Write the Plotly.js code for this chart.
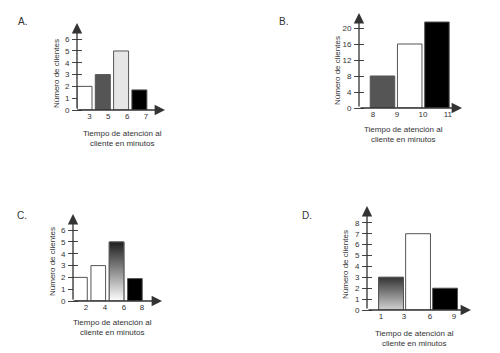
<!DOCTYPE html>
<html>
<head>
<meta charset="utf-8">
<script src="https://cdn.plot.ly/plotly-3.0.1.min.js"></script>
<style>html,body{margin:0;padding:0;background:#fff;}#chart{width:500px;height:353px;}</style>
</head>
<body>
<div id="chart"></div>
<script>
// ---- data ----
const labelsPanel = ['A.', 'B.', 'C.', 'D.'];
const catsA = ['3', '5', '6', '7'];
const valsA = [2, 3, 5, 1.7];
const catsB = ['8', '9', '10', '11'];
const valsB = [8, 16, 21.5];
const catsC = ['2', '4', '6', '8'];
const valsC = [2, 3, 5, 1.9];
const catsD = ['1', '3', '6', '9'];
const valsD = [3, 7, 2];
const yticksA = [0, 1, 2, 3, 4, 5, 6];
const yticksB = [0, 4, 8, 12, 16, 20];
const yticksC = [0, 1, 2, 3, 4, 5, 6];
const yticksD = [0, 1, 2, 3, 4, 5, 6, 7, 8];
const colorsA = ['#ffffff', '#555555', '#e6e6e6', '#000000'];
const colorsB = ['#555555', '#ffffff', '#000000'];
const colorsC = ['#ffffff', '#ffffff', 'gradient', '#000000'];
const colorsD = ['gradient', '#ffffff', '#000000'];
const yTitle = 'Número de clientes';
const xTitle = 'Tiempo de atención al<br>cliente en minutos';

// ---- layout geometry (pixels) ----
const W = 500, H = 353;
const panels = [
  {cats: catsA, vals: valsA, colors: colorsA, yt: yticksA, px: [77, 165], py: [23, 110], xr: [-0.41, 4.4], yr: [0, 7.37], bw: 0.82, tv: [0.27, 1.3, 2.33, 3.36], lab: [22, 22], ytl: [56, 74], xtl: [122, 138], grad: ['#ffffff', '#222222']},
  {cats: catsB, vals: valsB, colors: colorsB, yt: yticksB, px: [359, 462], py: [13, 108], xr: [-0.862, 2.92], yr: [0, 23.75], bw: 0.9, tv: [-0.35, 0.53, 1.49, 2.4], lab: [283, 22], ytl: [337, 71], xtl: [403, 134], grad: ['#ffffff', '#222222']},
  {cats: catsC, vals: valsC, colors: colorsC, yt: yticksC, px: [73, 162], py: [214, 301], xr: [-0.38, 4.48], yr: [0, 7.37], bw: 0.8, tv: [0.33, 1.37, 2.4, 3.39], lab: [22, 215], ytl: [52, 262], xtl: [112, 327], grad: ['#ffffff', '#1e1e1e']},
  {cats: catsD, vals: valsD, colors: colorsD, yt: yticksD, px: [367, 471], py: [206, 310], xr: [-0.89, 2.96], yr: [0, 9.54], bw: 0.92, tv: [-0.37, 0.48, 1.44, 2.33], lab: [307, 215], ytl: [345, 265], xtl: [414, 338], grad: ['#d2d2d2', '#333333']}
];

const font = {family: 'Liberation Sans, Arial, sans-serif', size: 8, color: '#333'};
const traces = [];
const layout = {
  width: W, height: H, margin: {l: 0, r: 0, t: 0, b: 0},
  paper_bgcolor: '#fff', plot_bgcolor: 'rgba(0,0,0,0)',
  showlegend: false, font: font, annotations: [], bargap: 0
};

panels.forEach((p, k) => {
  const n = k + 1;
  const xa = n === 1 ? 'x' : 'x' + n, ya = n === 1 ? 'y' : 'y' + n;
  const xKey = n === 1 ? 'xaxis' : 'xaxis' + n, yKey = n === 1 ? 'yaxis' : 'yaxis' + n;
  const idx = p.vals.map((v, i) => i);
  traces.push({
    type: 'bar', x: idx, y: p.vals, width: p.bw, xaxis: xa, yaxis: ya,
    marker: {color: p.colors.map(c => c === 'gradient' ? '#ffffff' : c), line: {color: '#555', width: 1}},
    hoverinfo: 'skip'
  });
  p.colors.forEach((c, i) => {
    if (c !== 'gradient') return;
    const x0 = i - p.bw / 2, x1 = i + p.bw / 2, v = p.vals[i];
    traces.push({
      type: 'scatter', mode: 'lines', xaxis: xa, yaxis: ya,
      x: [x0, x1, x1, x0, x0], y: [0, 0, v, v, 0],
      fill: 'toself', line: {color: '#555', width: 1},
      fillgradient: {type: 'vertical', colorscale: [[0, p.grad[0]], [1, p.grad[1]]]},
      hoverinfo: 'skip'
    });
  });
  layout[xKey] = {
    domain: [p.px[0] / W, p.px[1] / W], range: p.xr, anchor: ya,
    showgrid: false, zeroline: false, showline: false, ticks: '',
    tickmode: 'array', tickvals: p.tv, ticktext: p.cats,
    tickfont: {family: font.family, size: 8, color: '#333'}, fixedrange: true
  };
  layout[yKey] = {
    domain: [1 - p.py[1] / H, 1 - p.py[0] / H], range: p.yr,
    anchor: 'free', position: (p.px[0] + 5) / W,
    showgrid: false, zeroline: false, showline: false,
    ticks: 'outside', ticklen: 10, tickcolor: '#444', tickwidth: 1,
    tickmode: 'array', tickvals: p.yt, ticktext: p.yt.map(String),
    ticklabelstandoff: 1,
    tickfont: {family: font.family, size: 8, color: '#333'}, layer: 'below traces', fixedrange: true
  };
  const arrow = {text: '', showarrow: true, arrowhead: 2, arrowsize: 1.6, arrowwidth: 1.3, arrowcolor: '#333',
    xref: xa, yref: ya, axref: xa, ayref: ya, standoff: 0, startstandoff: 0};
  // y axis with arrow
  layout.annotations.push(Object.assign({}, arrow, {x: p.xr[0], y: p.yr[1], ax: p.xr[0], ay: 0}));
  // x axis with arrow
  layout.annotations.push(Object.assign({}, arrow, {x: p.xr[1], y: 0, ax: p.xr[0], ay: 0}));
  // panel letter
  layout.annotations.push({text: labelsPanel[k], showarrow: false, xref: 'paper', yref: 'paper',
    x: p.lab[0] / W, y: 1 - p.lab[1] / H, xanchor: 'center', yanchor: 'middle',
    font: {family: font.family, size: 10, color: '#333'}});
  // y title
  layout.annotations.push({text: yTitle, showarrow: false, xref: 'paper', yref: 'paper', textangle: -90,
    x: p.ytl[0] / W, y: 1 - p.ytl[1] / H, xanchor: 'center', yanchor: 'middle',
    font: {family: font.family, size: 8, color: '#333'}});
  // x title
  layout.annotations.push({text: xTitle, showarrow: false, xref: 'paper', yref: 'paper',
    x: p.xtl[0] / W, y: 1 - p.xtl[1] / H, xanchor: 'center', yanchor: 'middle',
    font: {family: font.family, size: 8, color: '#333'}});
});

Plotly.newPlot('chart', traces, layout, {displayModeBar: false, staticPlot: true});
</script>
</body>
</html>
